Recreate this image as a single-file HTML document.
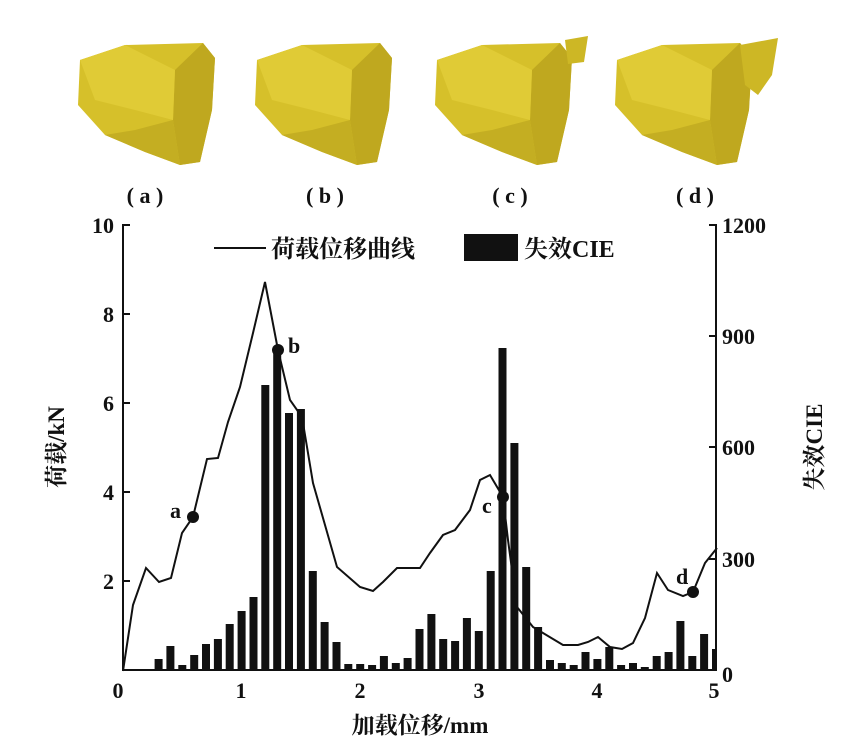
<!DOCTYPE html>
<html><head><meta charset="utf-8"><style>
html,body{margin:0;padding:0;background:#fff;}
svg{display:block;}
text{font-family:"Liberation Serif","Noto Serif CJK SC",serif;fill:#111;font-weight:bold;}
</style></head><body>
<svg width="853" height="752" viewBox="0 0 853 752" xmlns="http://www.w3.org/2000/svg">
<defs>
<g id="rock">
<polygon points="5,20 50,5 128,3 140,18 137,70 125,122 105,125 70,112 30,95 3,65" fill="#d6c02a"/>
<polygon points="100,30 128,3 140,18 137,70 125,122 105,125 98,80" fill="#bfa81f"/>
<polygon points="5,20 50,5 100,30 98,80 60,70 20,60" fill="#e0cb36"/>
<polygon points="30,95 70,112 105,125 98,80 60,90" fill="#c4ae22"/>
</g>
</defs>
<use href="#rock" x="75" y="40"/>
<use href="#rock" x="252" y="40"/>
<use href="#rock" x="432" y="40"/>
<use href="#rock" x="612" y="40"/>
<polygon points="740,45 778,38 772,75 758,95 745,85" fill="#cdb725"/>
<polygon points="565,40 588,36 584,62 568,64" fill="#cdb725"/>
<g font-size="22" text-anchor="middle">
<text x="145" y="203">( a )</text>
<text x="325" y="203">( b )</text>
<text x="510" y="203">( c )</text>
<text x="695" y="203">( d )</text>
</g>
<g fill="#111">
<rect x="154.6" y="659" width="8" height="11"/>
<rect x="166.4" y="646" width="8" height="24"/>
<rect x="178.3" y="665" width="8" height="5"/>
<rect x="190.2" y="655" width="8" height="15"/>
<rect x="202.0" y="644" width="8" height="26"/>
<rect x="213.9" y="639" width="8" height="31"/>
<rect x="225.7" y="624" width="8" height="46"/>
<rect x="237.6" y="611" width="8" height="59"/>
<rect x="249.5" y="597" width="8" height="73"/>
<rect x="261.3" y="385" width="8" height="285"/>
<rect x="273.2" y="350" width="8" height="320"/>
<rect x="285.0" y="413" width="8" height="257"/>
<rect x="296.9" y="409" width="8" height="261"/>
<rect x="308.8" y="571" width="8" height="99"/>
<rect x="320.6" y="622" width="8" height="48"/>
<rect x="332.5" y="642" width="8" height="28"/>
<rect x="344.3" y="664" width="8" height="6"/>
<rect x="356.2" y="664" width="8" height="6"/>
<rect x="368.1" y="665" width="8" height="5"/>
<rect x="379.9" y="656" width="8" height="14"/>
<rect x="391.8" y="663" width="8" height="7"/>
<rect x="403.6" y="658" width="8" height="12"/>
<rect x="415.5" y="629" width="8" height="41"/>
<rect x="427.4" y="614" width="8" height="56"/>
<rect x="439.2" y="639" width="8" height="31"/>
<rect x="451.1" y="641" width="8" height="29"/>
<rect x="462.9" y="618" width="8" height="52"/>
<rect x="474.8" y="631" width="8" height="39"/>
<rect x="486.7" y="571" width="8" height="99"/>
<rect x="498.5" y="348" width="8" height="322"/>
<rect x="510.4" y="443" width="8" height="227"/>
<rect x="522.2" y="567" width="8" height="103"/>
<rect x="534.1" y="627" width="8" height="43"/>
<rect x="546.0" y="660" width="8" height="10"/>
<rect x="557.8" y="663" width="8" height="7"/>
<rect x="569.7" y="665" width="8" height="5"/>
<rect x="581.5" y="652" width="8" height="18"/>
<rect x="593.4" y="659" width="8" height="11"/>
<rect x="605.3" y="647" width="8" height="23"/>
<rect x="617.1" y="665" width="8" height="5"/>
<rect x="629.0" y="663" width="8" height="7"/>
<rect x="640.8" y="667" width="8" height="3"/>
<rect x="652.7" y="656" width="8" height="14"/>
<rect x="664.6" y="652" width="8" height="18"/>
<rect x="676.4" y="621" width="8" height="49"/>
<rect x="688.3" y="656" width="8" height="14"/>
<rect x="700.1" y="634" width="8" height="36"/>
<rect x="712.0" y="649" width="4" height="21"/>
</g>
<polyline fill="none" stroke="#111" stroke-width="2" points="123,671 133,605 146,568 159,582 171,578 182,533 193,517 207,459 218,458 228,422 240,387 253,333 265,282 278,350 290,400 302,417 313,483 337,567 360,587 373,591 383,582 397,568 420,568 430,553 443,535 455,530 470,510 480,480 490,475 503,497 508,540 517,607 533,627 563,645 578,645 588,642 598,637 610,647 622,649 633,643 645,618 657,573 668,590 683,596 693,592 705,563 717,548"/>
<g fill="#111">
<circle cx="193" cy="517" r="6"/>
<circle cx="278" cy="350" r="6"/>
<circle cx="503" cy="497" r="6"/>
<circle cx="693" cy="592" r="6"/>
</g>
<g font-size="22">
<text x="170" y="518">a</text>
<text x="288" y="353">b</text>
<text x="482" y="513">c</text>
<text x="676" y="584">d</text>
</g>
<g stroke="#111" stroke-width="2" fill="none">
<line x1="123" y1="224" x2="123" y2="671"/>
<line x1="716" y1="224" x2="716" y2="671"/>
<line x1="122" y1="670" x2="717" y2="670"/>
<line x1="123" y1="225" x2="130" y2="225"/>
<line x1="123" y1="314" x2="130" y2="314"/>
<line x1="123" y1="403" x2="130" y2="403"/>
<line x1="123" y1="492" x2="130" y2="492"/>
<line x1="123" y1="581" x2="130" y2="581"/>
<line x1="709" y1="225" x2="716" y2="225"/>
<line x1="709" y1="336" x2="716" y2="336"/>
<line x1="709" y1="447" x2="716" y2="447"/>
<line x1="709" y1="559" x2="716" y2="559"/>
</g>
<g font-size="22" text-anchor="end">
<text x="114" y="233">10</text>
<text x="114" y="322">8</text>
<text x="114" y="411">6</text>
<text x="114" y="500">4</text>
<text x="114" y="589">2</text>
</g>
<g font-size="22" text-anchor="start">
<text x="722" y="233">1200</text>
<text x="722" y="344">900</text>
<text x="722" y="455">600</text>
<text x="722" y="567">300</text>
<text x="722" y="682">0</text>
</g>
<g font-size="22" text-anchor="middle">
<text x="118" y="698">0</text>
<text x="241" y="698">1</text>
<text x="360" y="698">2</text>
<text x="479" y="698">3</text>
<text x="597" y="698">4</text>
<text x="714" y="698">5</text>
</g>
<text x="420" y="733" font-size="23" text-anchor="middle">加载位移/mm</text>
<text transform="translate(64,447) rotate(-90)" font-size="23" text-anchor="middle">荷载/kN</text>
<text transform="translate(822,447) rotate(-90)" font-size="23" text-anchor="middle">失效CIE</text>
<line x1="214" y1="248" x2="266" y2="248" stroke="#111" stroke-width="2"/>
<text x="271" y="257" font-size="24">荷载位移曲线</text>
<rect x="464" y="234" width="54" height="27" fill="#111"/>
<text x="524" y="257" font-size="24">失效CIE</text>
</svg>
</body></html>
